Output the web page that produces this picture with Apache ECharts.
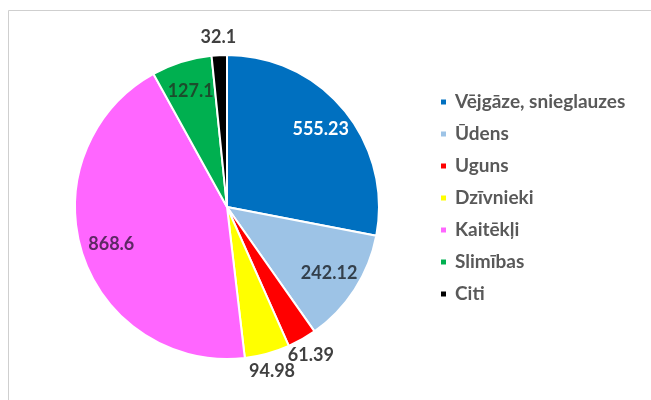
<!DOCTYPE html>
<html>
<head>
<meta charset="utf-8">
<script src="https://cdn.jsdelivr.net/npm/echarts@6/dist/echarts.min.js"></script>
<style>
  html, body { margin: 0; padding: 0; background: #fff; }
  #chart { width: 651px; height: 400px; }
</style>
</head>
<body>
<div id="chart"></div>
<script>
const categories = ['Vējgāze, snieglauzes', 'Ūdens', 'Uguns', 'Dzīvnieki', 'Kaitēkļi', 'Slimības', 'Citi']
const values = [555.23, 242.12, 61.39, 94.98, 868.6, 127.1, 32.1]
const colors = ['#0070c0', '#9dc3e6', '#ff0000', '#ffff00', '#ff66ff', '#00b050', '#000000']
// labels that sit inside their slice, and the label text colours
const insideLabel = [true, true, false, false, true, true, false]
const labelColors = ['#ffffff', '#34404c', '#404040', '#404040', '#5e2864', '#1b4d2c', '#404040']

const font = 'Lato, "Open Sans", sans-serif'
const center = [227, 207]
const radius = 152

const chart = echarts.init(document.getElementById('chart'))

const baseLabel = {
  fontFamily: font,
  fontSize: 18,
  fontWeight: 'bold',
  formatter: '{c}'
}

chart.setOption({
  animation: false,
  backgroundColor: '#fff',
  graphic: [{
    type: 'rect',
    shape: { x: 8.5, y: 10.5, width: 700, height: 500 },
    style: { fill: 'none', stroke: '#cfcfcf', lineWidth: 1 },
    silent: true
  }],
  legend: {
    orient: 'vertical',
    left: 434,
    top: 87,
    data: categories,
    icon: 'rect',
    itemWidth: 7,
    itemHeight: 7,
    itemGap: 12,
    textStyle: {
      fontFamily: font,
      fontSize: 19,
      fontWeight: 'bold',
      color: '#595959',
      lineHeight: 20,
      padding: [0, 0, 0, 3]
    }
  },
  series: [
    {
      // the slices, with the labels that sit outside
      type: 'pie',
      center: center,
      radius: radius,
      startAngle: 90,
      avoidLabelOverlap: false,
      itemStyle: { borderColor: '#fff', borderWidth: 2 },
      labelLine: { show: false, length: 18, length2: 0 },
      label: { ...baseLabel, position: 'outside', distanceToLabelLine: 0 },
      labelLayout: { align: 'center', verticalAlign: 'middle', hideOverlap: false, moveOverlap: null },
      data: categories.map((name, i) => ({
        name,
        value: values[i],
        itemStyle: { color: colors[i] },
        label: { show: !insideLabel[i], color: labelColors[i] }
      }))
    },
    {
      // transparent ring on top, only carries the inside labels
      type: 'pie',
      center: center,
      radius: [radius * 0.56, radius],
      startAngle: 90,
      silent: true,
      legendHoverLink: false,
      itemStyle: { color: 'transparent' },
      labelLine: { show: false },
      label: { ...baseLabel, position: 'inside' },
      data: categories.map((name, i) => ({
        name,
        value: values[i],
        label: { show: insideLabel[i], color: labelColors[i] }
      }))
    }
  ]
})
</script>
</body>
</html>
